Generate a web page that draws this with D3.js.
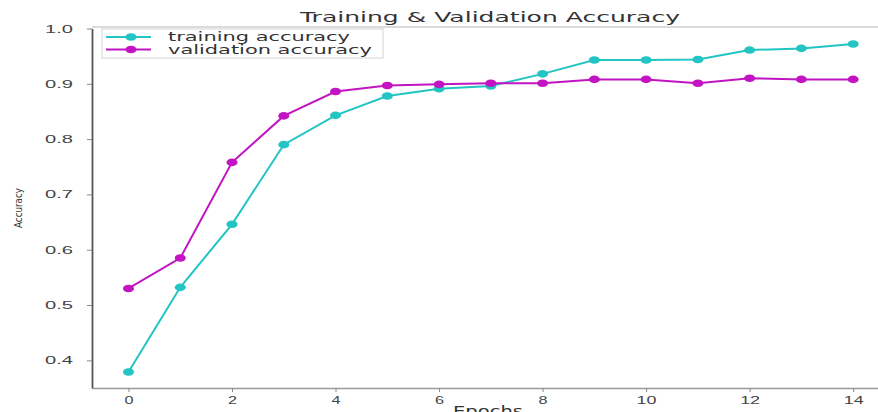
<!DOCTYPE html>
<html>
<head>
<meta charset="utf-8">
<script src="https://cdn.jsdelivr.net/npm/d3@7"></script>
<style>
  body { margin: 0; background: #fff; }
  svg { display: block; font-family: "DejaVu Sans", sans-serif; }
</style>
</head>
<body>
<svg id="chart" width="878" height="412"></svg>
<script>
// values
const epochs = [0, 1, 2, 3, 4, 5, 6, 7, 8, 9, 10, 11, 12, 13, 14];
const trainAcc = [0.379, 0.532, 0.646, 0.790, 0.843, 0.878, 0.891, 0.896, 0.918, 0.943, 0.943, 0.944, 0.961, 0.964, 0.972];
const valAcc = [0.530, 0.585, 0.758, 0.842, 0.886, 0.897, 0.899, 0.901, 0.901, 0.908, 0.908, 0.901, 0.910, 0.908, 0.908];
const xTicks = [0, 2, 4, 6, 8, 10, 12, 14];
const yTicks = [0.4, 0.5, 0.6, 0.7, 0.8, 0.9, 1.0];
const seriesNames = ['training accuracy', 'validation accuracy'];
const seriesColors = ['#22c4c4', '#c214c2'];

const svg = d3.select('#chart');
const plotLeft = 92, plotRight = 878, plotTop = 27, plotBottom = 388;

const x = d3.scaleLinear().domain([-0.705, 14.48]).range([plotLeft, plotRight]);
const y = d3.scaleLinear().domain([0.35, 1.0]).range([plotBottom, 28.5]);

// top spine
svg.append('line')
  .attr('x1', plotLeft).attr('x2', plotRight)
  .attr('y1', plotTop).attr('y2', plotTop)
  .attr('stroke', '#b8b8b8').attr('stroke-width', 1.2);

// x axis
const xAxis = svg.append('g')
  .attr('transform', 'translate(0,' + plotBottom + ')')
  .call(d3.axisBottom(x).tickValues(xTicks).tickSize(4).tickSizeOuter(0).tickFormat(d3.format('d')));
xAxis.select('.domain').attr('stroke', '#9a9a9a').attr('stroke-width', 1.5);
xAxis.selectAll('.tick line').attr('stroke', '#888');
xAxis.selectAll('.tick text')
  .attr('y', 8).attr('font-size', 11).attr('fill', '#444')
  .attr('textLength', d => d >= 10 ? 20 : 9)
  .attr('lengthAdjust', 'spacingAndGlyphs');

// y axis
const yAxis = svg.append('g')
  .attr('transform', 'translate(' + plotLeft + ',0)')
  .call(d3.axisLeft(y).tickValues(yTicks).tickSize(5).tickSizeOuter(0).tickFormat(d3.format('.1f')));
yAxis.select('.domain').attr('stroke', '#555').attr('stroke-width', 1.8);
yAxis.selectAll('.tick line').attr('stroke', '#888');
yAxis.selectAll('.tick text')
  .attr('x', -19).attr('font-size', 11).attr('fill', '#444')
  .attr('textLength', 28).attr('lengthAdjust', 'spacingAndGlyphs');

// title and axis labels
svg.append('text')
  .attr('x', 490).attr('y', 22)
  .attr('text-anchor', 'middle')
  .attr('font-size', 14).attr('fill', '#333')
  .attr('textLength', 380).attr('lengthAdjust', 'spacingAndGlyphs')
  .text('Training & Validation Accuracy');

svg.append('text')
  .attr('transform', 'translate(22,208) rotate(-90)')
  .attr('text-anchor', 'middle')
  .attr('font-size', 11).attr('fill', '#333')
  .attr('textLength', 40).attr('lengthAdjust', 'spacingAndGlyphs')
  .text('Accuracy');

svg.append('text')
  .attr('x', 488).attr('y', 416)
  .attr('text-anchor', 'middle')
  .attr('font-size', 14).attr('fill', '#333')
  .attr('textLength', 70).attr('lengthAdjust', 'spacingAndGlyphs')
  .text('Epochs');

// series
const line = d3.line().x((d, i) => x(epochs[i])).y(d => y(d));
[trainAcc, valAcc].forEach((vals, k) => {
  const g = svg.append('g');
  g.append('path')
    .datum(vals)
    .attr('d', line)
    .attr('fill', 'none')
    .attr('stroke', seriesColors[k])
    .attr('stroke-width', 2);
  g.selectAll('ellipse')
    .data(vals)
    .join('ellipse')
    .attr('cx', (d, i) => x(epochs[i]))
    .attr('cy', d => y(d))
    .attr('rx', 5.5).attr('ry', 3.8)
    .attr('fill', seriesColors[k]);
});

// legend
const legend = svg.append('g');
legend.append('rect')
  .attr('x', 102).attr('y', 29).attr('width', 281).attr('height', 29)
  .attr('fill', '#fff').attr('stroke', '#d4d4d4').attr('stroke-width', 1);
seriesNames.forEach((name, k) => {
  const ly = 37 + k * 12.5;
  legend.append('line')
    .attr('x1', 106).attr('x2', 151).attr('y1', ly).attr('y2', ly)
    .attr('stroke', seriesColors[k]).attr('stroke-width', 2);
  legend.append('ellipse')
    .attr('cx', 131).attr('cy', ly).attr('rx', 5.5).attr('ry', 3.8)
    .attr('fill', seriesColors[k]);
  legend.append('text')
    .attr('x', 168).attr('y', ly + 4)
    .attr('font-size', 12).attr('fill', '#333')
    .attr('textLength', k === 0 ? 182 : 204).attr('lengthAdjust', 'spacingAndGlyphs')
    .text(name);
});
</script>
</body>
</html>
